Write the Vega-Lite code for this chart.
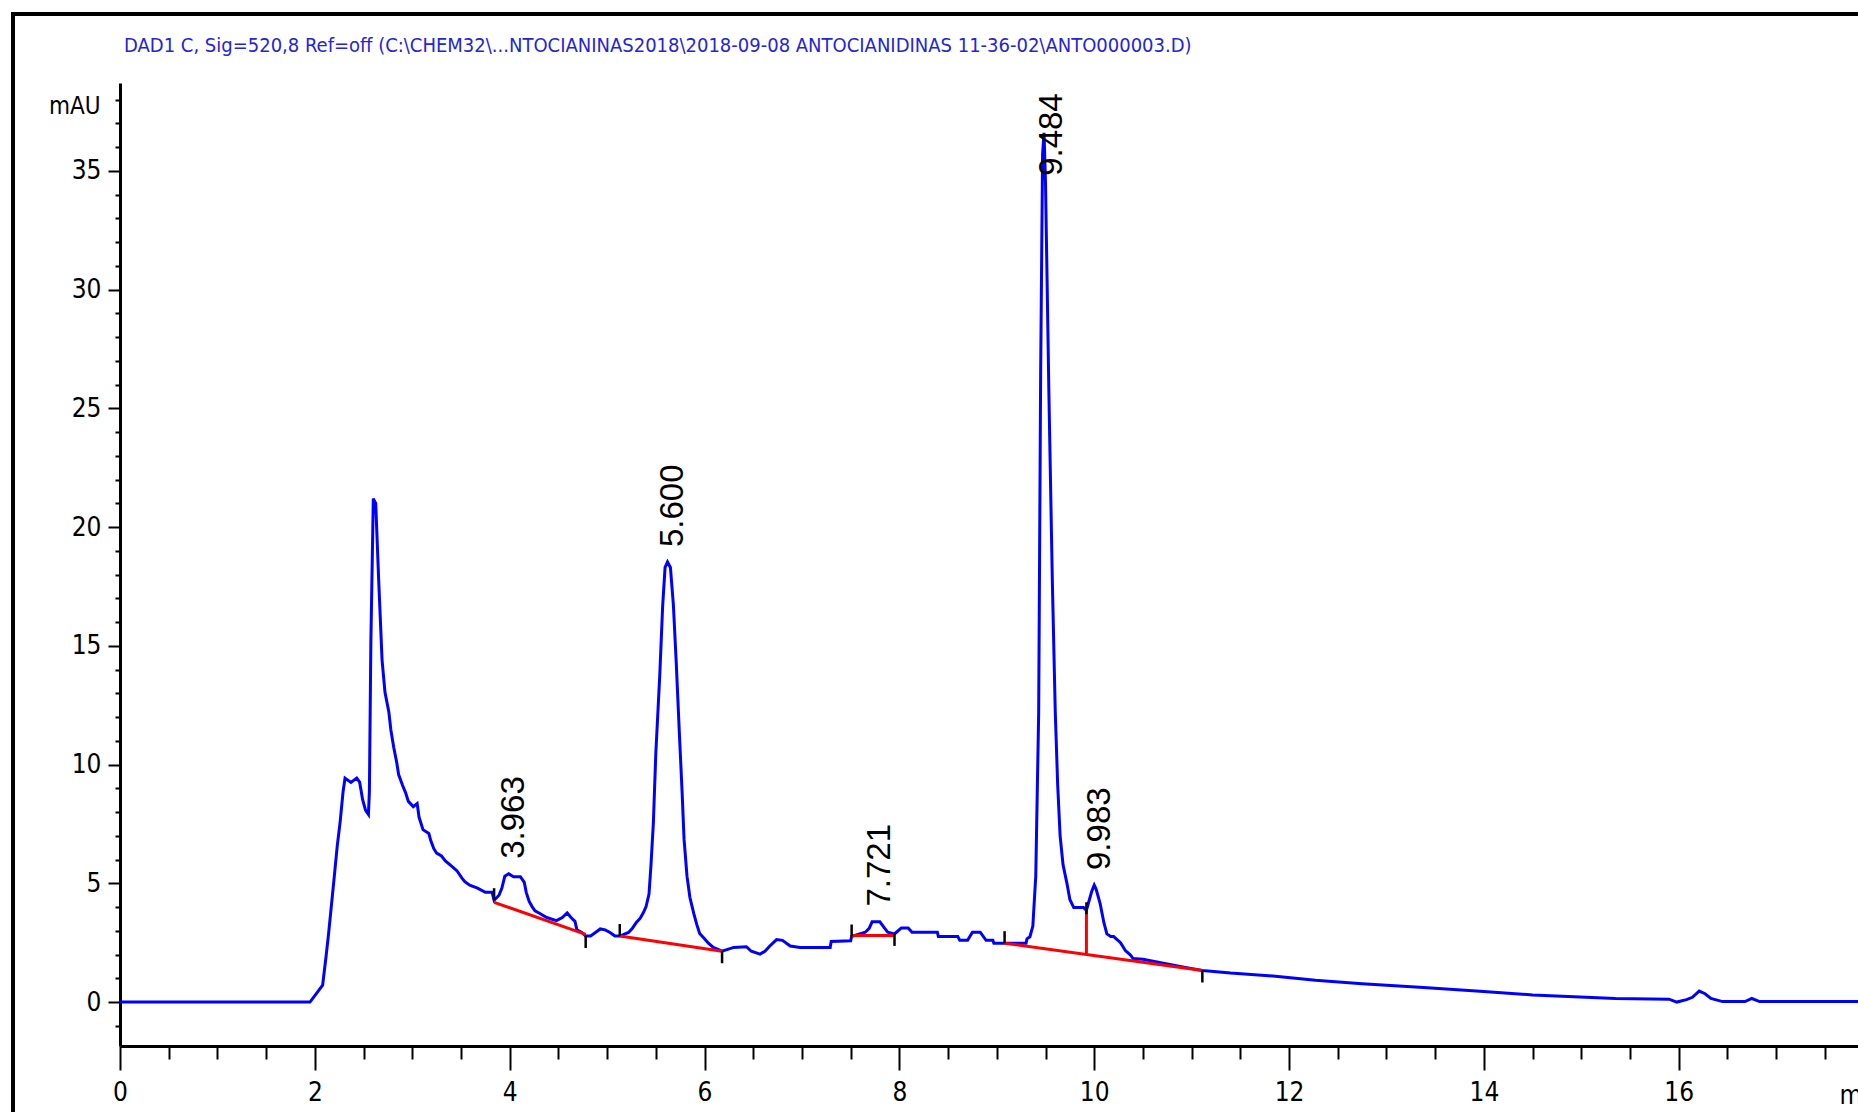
{
  "$schema": "https://vega.github.io/schema/vega-lite/v6.json",
  "width": 1738,
  "height": 963,
  "autosize": {"type": "none"},
  "padding": {"left": 120, "top": 83, "right": 0, "bottom": 66},
  "background": "white",
  "config": {"view": {"stroke": null}, "axis": {"grid": false}},
  "title": {
    "text": "DAD1 C, Sig=520,8 Ref=off (C:\\CHEM32\\...NTOCIANINAS2018\\2018-09-08 ANTOCIANIDINAS 11-36-02\\ANTO000003.D)",
    "anchor": "start",
    "frame": "group",
    "offset": -59,
    "baseline": "alphabetic",
    "dx": 4,
    "font": "Liberation Sans Narrow, DejaVu Sans Condensed, Liberation Sans, sans-serif",
    "fontSize": 20,
    "fontWeight": "normal",
    "color": "#2424dc"
  },
  "datasets": {
    "trace": [
      {"t": 0, "v": 0}, {"t": 1.95, "v": 0}, {"t": 2.0, "v": 0.27}, {"t": 2.08, "v": 0.71},
      {"t": 2.115, "v": 1.92}, {"t": 2.14, "v": 2.84}, {"t": 2.17, "v": 4.07}, {"t": 2.2, "v": 5.3},
      {"t": 2.23, "v": 6.58}, {"t": 2.26, "v": 7.6}, {"t": 2.29, "v": 8.87}, {"t": 2.31, "v": 9.43},
      {"t": 2.37, "v": 9.25}, {"t": 2.43, "v": 9.43}, {"t": 2.46, "v": 9.26}, {"t": 2.49, "v": 8.53},
      {"t": 2.52, "v": 8.08}, {"t": 2.55, "v": 7.9}, {"t": 2.56, "v": 8.87}, {"t": 2.575, "v": 15.15},
      {"t": 2.6, "v": 21.2}, {"t": 2.625, "v": 21.0}, {"t": 2.655, "v": 17.8}, {"t": 2.69, "v": 14.4},
      {"t": 2.72, "v": 13.04}, {"t": 2.76, "v": 12.2}, {"t": 2.78, "v": 11.47}, {"t": 2.81, "v": 10.72},
      {"t": 2.84, "v": 10.1}, {"t": 2.86, "v": 9.58}, {"t": 2.9, "v": 9.13}, {"t": 2.93, "v": 8.83},
      {"t": 2.96, "v": 8.45}, {"t": 3.01, "v": 8.23}, {"t": 3.05, "v": 8.36}, {"t": 3.07, "v": 7.78},
      {"t": 3.11, "v": 7.26}, {"t": 3.17, "v": 7.1}, {"t": 3.19, "v": 6.8}, {"t": 3.22, "v": 6.47},
      {"t": 3.25, "v": 6.27}, {"t": 3.3, "v": 6.15}, {"t": 3.34, "v": 5.94}, {"t": 3.41, "v": 5.7},
      {"t": 3.46, "v": 5.52}, {"t": 3.51, "v": 5.22}, {"t": 3.54, "v": 5.07}, {"t": 3.59, "v": 4.92},
      {"t": 3.67, "v": 4.8}, {"t": 3.75, "v": 4.62}, {"t": 3.82, "v": 4.62}, {"t": 3.84, "v": 4.29},
      {"t": 3.89, "v": 4.5}, {"t": 3.92, "v": 4.8}, {"t": 3.95, "v": 5.3}, {"t": 3.99, "v": 5.4},
      {"t": 4.04, "v": 5.28}, {"t": 4.11, "v": 5.28}, {"t": 4.15, "v": 5.04}, {"t": 4.17, "v": 4.62},
      {"t": 4.2, "v": 4.24}, {"t": 4.23, "v": 4.02}, {"t": 4.26, "v": 3.84}, {"t": 4.31, "v": 3.73},
      {"t": 4.38, "v": 3.56}, {"t": 4.48, "v": 3.43}, {"t": 4.54, "v": 3.56}, {"t": 4.59, "v": 3.75},
      {"t": 4.63, "v": 3.56}, {"t": 4.67, "v": 3.4}, {"t": 4.69, "v": 3.04}, {"t": 4.74, "v": 2.93},
      {"t": 4.78, "v": 2.78}, {"t": 4.83, "v": 2.78}, {"t": 4.88, "v": 2.93}, {"t": 4.93, "v": 3.08},
      {"t": 4.98, "v": 3.04}, {"t": 5.03, "v": 2.93}, {"t": 5.08, "v": 2.78}, {"t": 5.13, "v": 2.78},
      {"t": 5.22, "v": 2.93}, {"t": 5.26, "v": 3.11}, {"t": 5.3, "v": 3.35}, {"t": 5.34, "v": 3.53},
      {"t": 5.37, "v": 3.75}, {"t": 5.4, "v": 4.02}, {"t": 5.43, "v": 4.55}, {"t": 5.45, "v": 5.75},
      {"t": 5.475, "v": 7.56}, {"t": 5.5, "v": 10.48}, {"t": 5.54, "v": 13.72}, {"t": 5.57, "v": 16.66},
      {"t": 5.595, "v": 18.3}, {"t": 5.62, "v": 18.53}, {"t": 5.65, "v": 18.3}, {"t": 5.68, "v": 16.74},
      {"t": 5.71, "v": 14.26}, {"t": 5.74, "v": 11.47}, {"t": 5.77, "v": 8.83}, {"t": 5.79, "v": 6.85},
      {"t": 5.82, "v": 5.3}, {"t": 5.85, "v": 4.4}, {"t": 5.89, "v": 3.72}, {"t": 5.92, "v": 3.27},
      {"t": 5.95, "v": 2.89}, {"t": 6.0, "v": 2.67}, {"t": 6.04, "v": 2.48}, {"t": 6.09, "v": 2.3},
      {"t": 6.18, "v": 2.14}, {"t": 6.3, "v": 2.3}, {"t": 6.43, "v": 2.33}, {"t": 6.48, "v": 2.14},
      {"t": 6.57, "v": 2.02}, {"t": 6.62, "v": 2.14}, {"t": 6.67, "v": 2.36}, {"t": 6.74, "v": 2.63},
      {"t": 6.8, "v": 2.6}, {"t": 6.88, "v": 2.36}, {"t": 6.98, "v": 2.3}, {"t": 7.29, "v": 2.3},
      {"t": 7.3, "v": 2.55}, {"t": 7.5, "v": 2.58}, {"t": 7.51, "v": 2.76}, {"t": 7.65, "v": 2.94},
      {"t": 7.69, "v": 3.1}, {"t": 7.72, "v": 3.38}, {"t": 7.8, "v": 3.38}, {"t": 7.85, "v": 3.1},
      {"t": 7.88, "v": 2.94}, {"t": 7.95, "v": 2.87}, {"t": 7.97, "v": 2.94}, {"t": 8.02, "v": 3.12},
      {"t": 8.09, "v": 3.12}, {"t": 8.13, "v": 2.94}, {"t": 8.39, "v": 2.94}, {"t": 8.4, "v": 2.76},
      {"t": 8.6, "v": 2.76}, {"t": 8.62, "v": 2.6}, {"t": 8.7, "v": 2.6}, {"t": 8.75, "v": 2.94},
      {"t": 8.83, "v": 2.94}, {"t": 8.89, "v": 2.6}, {"t": 8.96, "v": 2.6}, {"t": 8.97, "v": 2.48},
      {"t": 9.3, "v": 2.48}, {"t": 9.31, "v": 2.66}, {"t": 9.34, "v": 2.75}, {"t": 9.37, "v": 3.2},
      {"t": 9.4, "v": 5.3}, {"t": 9.43, "v": 12.2}, {"t": 9.45, "v": 26.4}, {"t": 9.47, "v": 35.7},
      {"t": 9.485, "v": 36.6}, {"t": 9.5, "v": 34.5}, {"t": 9.535, "v": 25.6}, {"t": 9.57, "v": 17.75},
      {"t": 9.6, "v": 12.24}, {"t": 9.625, "v": 9.14}, {"t": 9.65, "v": 7.0}, {"t": 9.68, "v": 5.78},
      {"t": 9.72, "v": 5.0}, {"t": 9.75, "v": 4.32}, {"t": 9.79, "v": 3.98}, {"t": 9.89, "v": 3.98},
      {"t": 9.92, "v": 3.87}, {"t": 9.94, "v": 4.16}, {"t": 9.975, "v": 4.67}, {"t": 10.0, "v": 4.93},
      {"t": 10.02, "v": 4.75}, {"t": 10.06, "v": 4.16}, {"t": 10.1, "v": 3.33}, {"t": 10.13, "v": 2.87},
      {"t": 10.17, "v": 2.76}, {"t": 10.2, "v": 2.76}, {"t": 10.27, "v": 2.5}, {"t": 10.32, "v": 2.17},
      {"t": 10.37, "v": 1.99}, {"t": 10.4, "v": 1.83}, {"t": 10.5, "v": 1.8}, {"t": 10.75, "v": 1.6},
      {"t": 10.95, "v": 1.45}, {"t": 11.11, "v": 1.33}, {"t": 11.4, "v": 1.22}, {"t": 11.86, "v": 1.09},
      {"t": 12.27, "v": 0.92}, {"t": 12.75, "v": 0.77}, {"t": 13.38, "v": 0.61}, {"t": 13.96, "v": 0.46},
      {"t": 14.5, "v": 0.3}, {"t": 15.35, "v": 0.15}, {"t": 15.9, "v": 0.12}, {"t": 15.98, "v": 0.0},
      {"t": 16.08, "v": 0.1}, {"t": 16.14, "v": 0.2}, {"t": 16.21, "v": 0.46}, {"t": 16.27, "v": 0.35},
      {"t": 16.33, "v": 0.15}, {"t": 16.45, "v": 0.02}, {"t": 16.68, "v": 0.02}, {"t": 16.75, "v": 0.15},
      {"t": 16.83, "v": 0.02}, {"t": 17.84, "v": 0.02}
    ],
    "baseline": [
      {"t": 3.84, "v": 4.2, "seg": "a"}, {"t": 4.78, "v": 2.85, "seg": "a"},
      {"t": 5.13, "v": 2.78, "seg": "b"}, {"t": 6.18, "v": 2.14, "seg": "b"},
      {"t": 7.51, "v": 2.8, "seg": "c"}, {"t": 7.95, "v": 2.8, "seg": "c"},
      {"t": 9.08, "v": 2.48, "seg": "d"}, {"t": 11.11, "v": 1.33, "seg": "d"},
      {"t": 9.92, "v": 2.0, "seg": "e"}, {"t": 9.92, "v": 3.95, "seg": "e"}
    ],
    "starts": [
      {"t": 3.84, "v": 4.29}, {"t": 5.13, "v": 2.78}, {"t": 7.51, "v": 2.76}, {"t": 9.08, "v": 2.48}
    ],
    "ends": [
      {"t": 4.78, "v": 2.78}, {"t": 6.18, "v": 2.14}, {"t": 7.95, "v": 2.87}, {"t": 11.11, "v": 1.33}
    ],
    "drops": [
      {"t": 9.92, "v": 3.95}
    ],
    "peaks": [
      {"rt": 3.963, "apex": 5.4, "label": "3.963"},
      {"rt": 5.6, "apex": 18.53, "label": "5.600"},
      {"rt": 7.721, "apex": 3.39, "label": "7.721"},
      {"rt": 9.983, "apex": 4.93, "label": "9.983"}
    ],
    "tall": [
      {"rt": 9.484, "apex": 36.6, "label": "9.484"}
    ]
  },
  "layer": [
    {
      "data": {"name": "trace"},
      "mark": {"type": "rect", "filled": false, "stroke": "black", "strokeWidth": 3, "clip": false},
      "encoding": {
        "x": {"datum": -1.1, "type": "quantitative", "scale": {"domain": [0, 17.84], "nice": false, "zero": false}, "axis": null},
        "x2": {"datum": 20},
        "y": {"datum": 41.6, "type": "quantitative", "scale": {"domain": [-1.85, 38.7], "nice": false, "zero": false}, "axis": null},
        "y2": {"datum": -6}
      }
    },
    {
      "data": {"name": "trace"},
      "mark": {"type": "line", "strokeOpacity": 0},
      "encoding": {
        "x": {"field": "t", "type": "quantitative", "scale": {"domain": [0, 17.84], "nice": false, "zero": false},
          "axis": {"orient": "bottom", "values": [0.5,1,1.5,2.5,3,3.5,4.5,5,5.5,6.5,7,7.5,8.5,9,9.5,10.5,11,11.5,12.5,13,13.5,14.5,15,15.5,16.5,17,17.5],
            "labels": false, "domain": false, "tickSize": 13, "tickWidth": 2, "tickColor": "black", "title": null, "grid": false}},
        "y": {"field": "v", "type": "quantitative", "scale": {"domain": [-1.85, 38.7], "nice": false, "zero": false},
          "axis": {"orient": "left", "values": [-1,1,2,3,4,6,7,8,9,11,12,13,14,16,17,18,19,21,22,23,24,26,27,28,29,31,32,33,34,36,37,38],
            "labels": false, "domain": false, "tickSize": 5, "tickWidth": 2, "tickColor": "black", "title": null, "grid": false}}
      }
    },
    {
      "data": {"name": "trace"},
      "mark": {"type": "line", "color": "#0000ff", "strokeWidth": 3},
      "encoding": {
        "x": {"field": "t", "type": "quantitative", "scale": {"domain": [0, 17.84], "nice": false, "zero": false},
          "axis": {"orient": "bottom", "values": [0,2,4,6,8,10,12,14,16], "tickSize": 24, "tickWidth": 2, "tickColor": "black",
            "domainColor": "black", "domainWidth": 3, "labelFont": "Liberation Sans Narrow, DejaVu Sans Condensed, sans-serif",
            "labelFontSize": 26, "labelColor": "black", "labelPadding": 9, "labelFlush": false,
            "title": "min", "titleX": 1719, "titleY": 57, "titleAlign": "left", "titleBaseline": "alphabetic", "titleAnchor": null,
            "titleFont": "Liberation Sans Narrow, DejaVu Sans Condensed, sans-serif", "titleFontSize": 26, "titleFontWeight": "normal", "titleColor": "black"}},
        "y": {"field": "v", "type": "quantitative", "scale": {"domain": [-1.85, 38.7], "nice": false, "zero": false},
          "axis": {"orient": "left", "values": [0,5,10,15,20,25,30,35], "tickSize": 12, "tickWidth": 2, "tickColor": "black",
            "domainColor": "black", "domainWidth": 3, "labelFont": "Liberation Sans Narrow, DejaVu Sans Condensed, sans-serif",
            "labelFontSize": 26, "labelColor": "black", "labelPadding": 7,
            "title": "mAU", "titleAngle": 0, "titleX": -20, "titleY": 30, "titleAlign": "right", "titleBaseline": "alphabetic",
            "titleFont": "Liberation Sans Narrow, DejaVu Sans Condensed, sans-serif", "titleFontSize": 24, "titleFontWeight": "normal", "titleColor": "black"}}
      }
    },
    {
      "data": {"name": "baseline"},
      "mark": {"type": "line", "color": "#ff0000", "strokeWidth": 3},
      "encoding": {
        "x": {"field": "t", "type": "quantitative", "scale": {"domain": [0, 17.84], "nice": false, "zero": false}, "axis": null},
        "y": {"field": "v", "type": "quantitative", "scale": {"domain": [-1.85, 38.7], "nice": false, "zero": false}, "axis": null},
        "detail": {"field": "seg"}
      }
    },
    {
      "data": {"name": "starts"},
      "mark": {"type": "tick", "orient": "vertical", "size": 12, "thickness": 2.5, "color": "black", "opacity": 1, "yOffset": -6},
      "encoding": {
        "x": {"field": "t", "type": "quantitative", "scale": {"domain": [0, 17.84], "nice": false, "zero": false}, "axis": null},
        "y": {"field": "v", "type": "quantitative", "scale": {"domain": [-1.85, 38.7], "nice": false, "zero": false}, "axis": null}
      }
    },
    {
      "data": {"name": "ends"},
      "mark": {"type": "tick", "orient": "vertical", "size": 12, "thickness": 2.5, "color": "black", "opacity": 1, "yOffset": 6},
      "encoding": {
        "x": {"field": "t", "type": "quantitative", "scale": {"domain": [0, 17.84], "nice": false, "zero": false}, "axis": null},
        "y": {"field": "v", "type": "quantitative", "scale": {"domain": [-1.85, 38.7], "nice": false, "zero": false}, "axis": null}
      }
    },
    {
      "data": {"name": "drops"},
      "mark": {"type": "tick", "orient": "vertical", "size": 12, "thickness": 2.5, "color": "black", "opacity": 1},
      "encoding": {
        "x": {"field": "t", "type": "quantitative", "scale": {"domain": [0, 17.84], "nice": false, "zero": false}, "axis": null},
        "y": {"field": "v", "type": "quantitative", "scale": {"domain": [-1.85, 38.7], "nice": false, "zero": false}, "axis": null}
      }
    },
    {
      "data": {"name": "peaks"},
      "mark": {"type": "text", "angle": 270, "align": "left", "baseline": "middle", "dx": 15, "dy": 7.5,
        "font": "Liberation Sans, Arial, sans-serif", "fontSize": 33, "color": "black"},
      "encoding": {
        "x": {"field": "rt", "type": "quantitative", "scale": {"domain": [0, 17.84], "nice": false, "zero": false}, "axis": null},
        "y": {"field": "apex", "type": "quantitative", "scale": {"domain": [-1.85, 38.7], "nice": false, "zero": false}, "axis": null},
        "text": {"field": "label"}
      }
    },
    {
      "data": {"name": "tall"},
      "mark": {"type": "text", "angle": 270, "align": "left", "baseline": "middle", "dx": -43, "dy": 8,
        "font": "Liberation Sans, Arial, sans-serif", "fontSize": 33, "color": "black"},
      "encoding": {
        "x": {"field": "rt", "type": "quantitative", "scale": {"domain": [0, 17.84], "nice": false, "zero": false}, "axis": null},
        "y": {"field": "apex", "type": "quantitative", "scale": {"domain": [-1.85, 38.7], "nice": false, "zero": false}, "axis": null},
        "text": {"field": "label"}
      }
    }
  ],
  "resolve": {"axis": {"x": "independent", "y": "independent"}}
}
